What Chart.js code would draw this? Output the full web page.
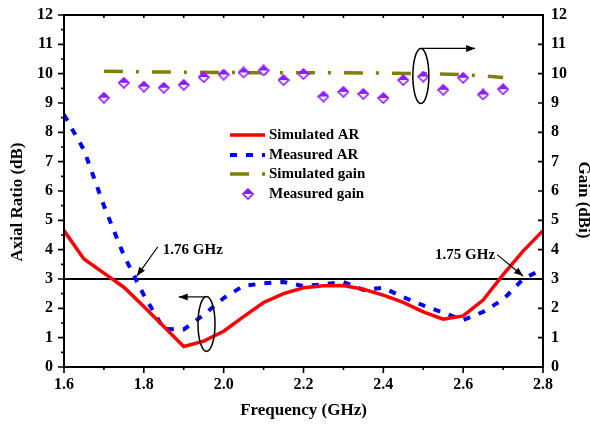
<!DOCTYPE html>
<html>
<head>
<meta charset="utf-8">
<script src="https://cdn.jsdelivr.net/npm/chart.js@4.4.1/dist/chart.umd.min.js"></script>
<style>
  body { margin: 0; background: #fff; }
  canvas { display: block; }
</style>
</head>
<body>
<canvas id="chart" width="590" height="428"></canvas>
<script>
// axial ratio curves, 1.6 - 2.8 GHz
const arFreq = [1.6, 1.65, 1.7, 1.75, 1.8, 1.85, 1.9, 1.95, 2.0, 2.05, 2.1, 2.15, 2.2,
  2.25, 2.3, 2.35, 2.4, 2.45, 2.5, 2.55, 2.6, 2.65, 2.7, 2.75, 2.8];
const simAR = [4.65, 3.68, 3.2, 2.72, 2.06, 1.38, 0.7, 0.88, 1.22, 1.72, 2.2, 2.5, 2.7,
  2.77, 2.78, 2.65, 2.45, 2.2, 1.88, 1.63, 1.74, 2.28, 3.15, 3.95, 4.65];
const measAR = [8.6, 7.4, 5.5, 3.8, 2.45, 1.3, 1.28, 1.78, 2.35, 2.77, 2.85, 2.9, 2.76,
  2.82, 2.9, 2.63, 2.7, 2.38, 2.1, 1.85, 1.6, 1.88, 2.3, 3.0, 3.35];

// gain curves
const simGainFreq = [1.7, 1.8, 1.9, 2.0, 2.1, 2.2, 2.3, 2.4, 2.5, 2.6, 2.7];
const simGain = [10.08, 10.06, 10.05, 10.04, 10.03, 10.03, 10.03, 10.02, 10.0, 9.97, 9.87];
const measGainFreq = [1.7, 1.75, 1.8, 1.85, 1.9, 1.95, 2.0, 2.05, 2.1, 2.15, 2.2,
  2.25, 2.3, 2.35, 2.4, 2.45, 2.5, 2.55, 2.6, 2.65, 2.7];
const measGain = [9.18, 9.69, 9.56, 9.52, 9.62, 9.88, 9.97, 10.04, 10.11, 9.78, 9.99,
  9.22, 9.38, 9.31, 9.17, 9.78, 9.9, 9.45, 9.86, 9.29, 9.47];

const arLimit = 3;
const seriesNames = ["Simulated AR", "Measured AR", "Simulated gain", "Measured gain"];
const xTicks = [1.6, 1.8, 2.0, 2.2, 2.4, 2.6, 2.8];
const yTicks = [0, 1, 2, 3, 4, 5, 6, 7, 8, 9, 10, 11, 12];

const serif = "'Liberation Serif', 'Times New Roman', serif";
const purple = "#8c1cff";

function pts(xs, ys) {
  return xs.map((v, i) => ({ x: v, y: ys[i] }));
}

// half filled diamond marker
function halfDiamond() {
  const c = document.createElement("canvas");
  c.width = 12;
  c.height = 12;
  const g = c.getContext("2d");
  g.beginPath();
  g.moveTo(6, 1); g.lineTo(11, 6); g.lineTo(6, 11); g.lineTo(1, 6); g.closePath();
  g.fillStyle = "#fff";
  g.fill();
  g.beginPath();
  g.moveTo(6, 1); g.lineTo(11, 6); g.lineTo(1, 6); g.closePath();
  g.fillStyle = purple;
  g.fill();
  g.beginPath();
  g.moveTo(6, 1); g.lineTo(11, 6); g.lineTo(6, 11); g.lineTo(1, 6); g.closePath();
  g.strokeStyle = purple;
  g.lineWidth = 1.6;
  g.stroke();
  return c;
}
const diamond = halfDiamond();

function arrow(ctx, x1, y1, x2, y2) {
  ctx.beginPath();
  ctx.moveTo(x1, y1);
  ctx.lineTo(x2, y2);
  ctx.stroke();
  const a = Math.atan2(y2 - y1, x2 - x1);
  ctx.beginPath();
  ctx.moveTo(x2, y2);
  ctx.lineTo(x2 - 9 * Math.cos(a) + 3.5 * Math.sin(a), y2 - 9 * Math.sin(a) - 3.5 * Math.cos(a));
  ctx.lineTo(x2 - 9 * Math.cos(a) - 3.5 * Math.sin(a), y2 - 9 * Math.sin(a) + 3.5 * Math.cos(a));
  ctx.closePath();
  ctx.fill();
}

function vText(ctx, text, x, y, rot) {
  ctx.save();
  ctx.translate(x, y);
  ctx.rotate(rot);
  ctx.textAlign = "center";
  ctx.textBaseline = "middle";
  ctx.fillText(text, 0, 0);
  ctx.restore();
}

const decor = {
  id: "decor",
  beforeDraw(chart) {
    const ctx = chart.ctx;
    ctx.save();
    ctx.fillStyle = "#fff";
    ctx.fillRect(0, 0, chart.width, chart.height);
    ctx.restore();
  },
  afterDatasetsDraw(chart) {
    const { ctx, chartArea: a, scales } = chart;
    const px = (v) => scales.x.getPixelForValue(v);
    const py = (v) => scales.y.getPixelForValue(v);
    ctx.save();
    ctx.strokeStyle = "#000";
    ctx.fillStyle = "#000";

    // frame
    ctx.lineWidth = 2;
    ctx.strokeRect(a.left, a.top, a.right - a.left, a.bottom - a.top);

    // ticks
    ctx.lineWidth = 1.6;
    ctx.beginPath();
    for (let i = 0; i <= 12; i++) {
      const xp = px(1.6 + i * 0.1);
      const len = i % 2 === 0 ? 6 : 3;
      ctx.moveTo(xp, a.bottom);
      ctx.lineTo(xp, a.bottom + len);
      if (i > 0 && i < 12) {
        ctx.moveTo(xp, a.top);
        ctx.lineTo(xp, a.top + 3);
      }
    }
    for (let i = 0; i <= 24; i++) {
      const yp = py(i * 0.5);
      ctx.moveTo(a.left, yp);
      ctx.lineTo(a.left - (i % 2 === 0 ? 6 : 3), yp);
      if (i % 2 === 0) {
        ctx.moveTo(a.right, yp);
        ctx.lineTo(a.right - 5, yp);
      }
    }
    ctx.stroke();

    // axis titles (y)
    ctx.font = "bold 17px " + serif;
    vText(ctx, "Axial Ratio (dB)", 18, 202, -Math.PI / 2);
    vText(ctx, "Gain (dBi)", 583, 200, Math.PI / 2);

    // annotations
    ctx.font = "bold 15px " + serif;
    ctx.textBaseline = "middle";
    ctx.lineWidth = 1.2;
    ctx.textAlign = "left";
    ctx.fillText("1.76 GHz", px(1.8475), py(4.0));
    arrow(ctx, px(1.835), py(4.1), px(1.7825), py(3.1));
    ctx.textAlign = "right";
    ctx.fillText("1.75 GHz", px(2.68), py(3.8));
    arrow(ctx, px(2.685), py(3.83), px(2.75), py(3.1));

    // ellipses with axis arrows
    ctx.lineWidth = 1.5;
    ctx.beginPath();
    ctx.ellipse(px(1.957), py(1.47), 8.5, 27.5, 0, 0, Math.PI * 2);
    ctx.stroke();
    ctx.lineWidth = 1.2;
    arrow(ctx, px(1.957), py(2.39), px(1.8875), py(2.39));
    ctx.lineWidth = 1.5;
    ctx.beginPath();
    ctx.ellipse(px(2.494), py(9.92), 8, 27.5, 0, 0, Math.PI * 2);
    ctx.stroke();
    ctx.lineWidth = 1.2;
    arrow(ctx, px(2.494), py(10.86), px(2.63), py(10.86));

    // legend
    const ds = chart.data.datasets;
    const rows = [135, 155, 174, 194];
    ctx.textAlign = "left";
    seriesNames.forEach((name, i) => {
      const d = ds.find((s) => s.label === name);
      const ry = rows[i];
      if (d.showLine === false) {
        ctx.drawImage(diamond, 248 - 6, ry - 6);
      } else {
        ctx.save();
        ctx.strokeStyle = d.borderColor;
        ctx.lineWidth = d.borderWidth;
        ctx.setLineDash(d.borderDash || []);
        ctx.beginPath();
        ctx.moveTo(230, ry);
        ctx.lineTo(265, ry);
        ctx.stroke();
        ctx.restore();
      }
      ctx.fillStyle = "#000";
      ctx.fillText(name, 269, ry);
    });
    ctx.restore();
  }
};

const tickFont = { family: serif, size: 16, weight: "bold" };
const titleFont = { family: serif, size: 17, weight: "bold" };

function fixY(width) {
  return (s) => {
    s.width = width;
    s.paddingTop = 0;
    s.paddingBottom = 0;
  };
}

new Chart(document.getElementById("chart"), {
  type: "line",
  data: {
    datasets: [
      {
        label: seriesNames[3],
        data: pts(measGainFreq, measGain),
        yAxisID: "y1",
        showLine: false,
        pointStyle: diamond,
        pointRadius: 6
      },
      {
        label: seriesNames[2],
        data: pts(simGainFreq, simGain),
        yAxisID: "y1",
        borderColor: "#808000",
        borderWidth: 3.5,
        borderDash: [19, 13, 3, 13],
        pointRadius: 0
      },
      {
        label: seriesNames[0],
        data: pts(arFreq, simAR),
        yAxisID: "y",
        borderColor: "#ff0000",
        borderWidth: 3.5,
        pointRadius: 0
      },
      {
        label: seriesNames[1],
        data: pts(arFreq, measAR),
        yAxisID: "y",
        borderColor: "#0000ff",
        borderWidth: 4,
        borderDash: [7, 9],
        pointRadius: 0
      },
      {
        label: "limit",
        data: [{ x: xTicks[0], y: arLimit }, { x: xTicks[xTicks.length - 1], y: arLimit }],
        yAxisID: "y",
        borderColor: "#000",
        borderWidth: 2,
        pointRadius: 0
      }
    ]
  },
  options: {
    responsive: false,
    animation: false,
    devicePixelRatio: 1,
    layout: { padding: { top: 15, left: 0, right: 0, bottom: 0 } },
    plugins: { legend: { display: false }, tooltip: { enabled: false } },
    scales: {
      x: {
        type: "linear",
        min: 1.6,
        max: 2.8,
        afterBuildTicks: (s) => { s.ticks = xTicks.map((v) => ({ value: v })); },
        afterFit: (s) => {
          s.height = 61;
          s.paddingLeft = 0;
          s.paddingRight = 0;
        },
        grid: { display: false, drawTicks: false },
        border: { display: false },
        ticks: { color: "#000", font: tickFont, padding: 8, callback: (v) => v.toFixed(1) },
        title: { display: true, text: "Frequency (GHz)", color: "#000", font: titleFont,
          padding: { top: 0, bottom: 7 } }
      },
      y: {
        position: "left",
        min: 0,
        max: 12,
        afterBuildTicks: (s) => { s.ticks = yTicks.map((v) => ({ value: v })); },
        afterFit: fixY(64),
        grid: { display: false, drawTicks: false },
        border: { display: false },
        ticks: { color: "#000", font: tickFont, padding: 11 }
      },
      y1: {
        position: "right",
        min: 0,
        max: 12,
        afterBuildTicks: (s) => { s.ticks = yTicks.map((v) => ({ value: v })); },
        afterFit: fixY(47),
        grid: { display: false, drawTicks: false },
        border: { display: false },
        ticks: { color: "#000", font: tickFont, padding: 8 }
      }
    }
  },
  plugins: [decor]
});
</script>
</body>
</html>
